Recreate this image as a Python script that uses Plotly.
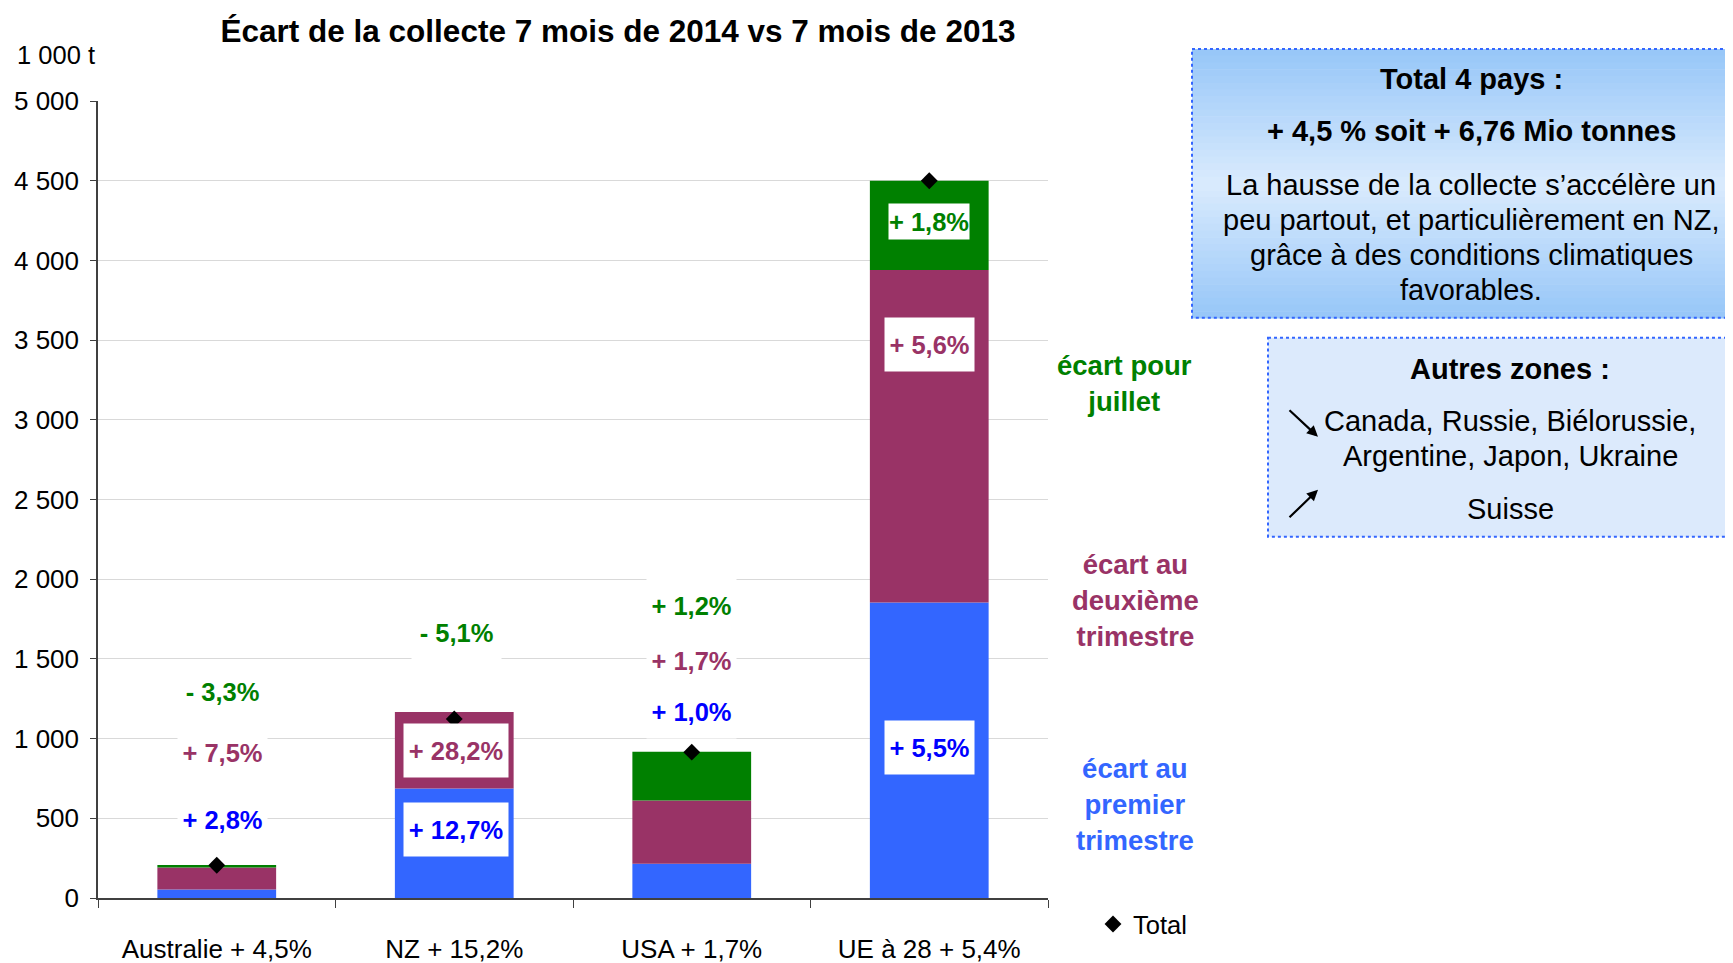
import plotly.graph_objects as go

# ---------------- data ----------------
categories = ["Australie + 4,5%", "NZ + 15,2%", "USA + 1,7%", "UE à 28 + 5,4%"]
q1_values = [54, 687, 215, 1854]        # écart au premier trimestre (1 000 t)
q2_values = [138, 480, 397, 2086]       # écart au deuxième trimestre
july_values = [15, -44, 305, 560]       # écart pour juillet
total_values = [205, 1123, 915, 4500]   # total

q1_labels = ["+ 2,8%", "+ 12,7%", "+ 1,0%", "+ 5,5%"]
q2_labels = ["+ 7,5%", "+ 28,2%", "+ 1,7%", "+ 5,6%"]
july_labels = ["- 3,3%", "- 5,1%", "+ 1,2%", "+ 1,8%"]

# label anchor heights (in axis units)
q1_label_y = [495, 432, 1169, 945]
q2_label_y = [915, 926, 1489, 3474]
july_label_y = [1293, 1667, 1833, 4242]
label_xshift = [6, 2, 0, 0]

y_ticks = list(range(0, 5001, 500))

# ---------------- style ----------------
FONT = "Liberation Sans, Arial, sans-serif"
BLUE = "#3366FF"
MAGENTA = "#993366"
GREEN = "#008000"
LBL_BLUE = "#0000FF"

W, H = 1733, 963
OFF = 8  # page body margin
# plot area in screen pixels
PL, PR, PT, PB = 98, 1048, 101, 898.5


def px(x):
    return (x - PL) / (PR - PL)


def py(y):
    return (PB - y) / (PB - PT)


fig = go.Figure()
fig.add_trace(go.Bar(x=categories, y=q1_values, marker_color=BLUE, marker_line_width=0,
                     name="écart au premier trimestre", showlegend=False))
fig.add_trace(go.Bar(x=categories, y=q2_values, marker_color=MAGENTA, marker_line_width=0,
                     name="écart au deuxième trimestre", showlegend=False))
fig.add_trace(go.Bar(x=categories, y=july_values, marker_color=GREEN, marker_line_width=0,
                     name="écart pour juillet", showlegend=False))
fig.add_trace(go.Scatter(x=categories, y=total_values, mode="markers", name="Total",
                         marker=dict(symbol="diamond", size=13, color="black")))

annotations = []
# data labels
for i, c in enumerate(categories):
    for txt, yv, col in ((q1_labels[i], q1_label_y[i], LBL_BLUE),
                         (q2_labels[i], q2_label_y[i], MAGENTA),
                         (july_labels[i], july_label_y[i], GREEN)):
        small = (txt == "+ 1,8%")
        wide = len(txt) > 6
        annotations.append(dict(
            x=c, y=yv, xref="x", yref="y", text="<b>%s</b>" % txt, showarrow=False,
            font=dict(family=FONT, size=25.5, color=col),
            bgcolor="white", borderpad=0, xshift=label_xshift[i],
            width=80 if small else (104 if wide else 89),
            height=35 if small else 53,
            xanchor="center", yanchor="middle"))

# "1 000 t"
annotations.append(dict(x=px(15), y=py(55), xref="paper", yref="paper", text="1 000 t",
                        showarrow=False, xanchor="left", yanchor="middle",
                        font=dict(family=FONT, size=25.5, color="black")))

# series captions
CAP = 27.5
annotations.append(dict(x=px(1124), y=py(383.5), xref="paper", yref="paper",
                        text="<b>écart pour<br>juillet</b>", showarrow=False,
                        xanchor="center", yanchor="middle", align="center",
                        font=dict(family=FONT, size=CAP, color=GREEN)))
annotations.append(dict(x=px(1135), y=py(600.5), xref="paper", yref="paper",
                        text="<b>écart au<br>deuxième<br>trimestre</b>", showarrow=False,
                        xanchor="center", yanchor="middle", align="center",
                        font=dict(family=FONT, size=CAP, color=MAGENTA)))
annotations.append(dict(x=px(1135), y=py(804.5), xref="paper", yref="paper",
                        text="<b>écart au<br>premier<br>trimestre</b>", showarrow=False,
                        xanchor="center", yanchor="middle", align="center",
                        font=dict(family=FONT, size=CAP, color=BLUE)))

# box 1 texts
BOX = 29
box1_lines = [("<b>Total 4 pays :</b>", 79), ("<b>+ 4,5 % soit + 6,76 Mio tonnes</b>", 131.5),
              ("La hausse de la collecte s’accélère un", 184.6),
              ("peu partout, et particulièrement en NZ,", 220),
              ("grâce à des conditions climatiques", 255),
              ("favorables.", 290.5)]
for t, yy in box1_lines:
    annotations.append(dict(x=px(1471), y=py(yy), xref="paper", yref="paper", text=t,
                            showarrow=False, xanchor="center", yanchor="middle",
                            font=dict(family=FONT, size=BOX, color="black")))

box2_lines = [("<b>Autres zones :</b>", 369), ("Canada, Russie, Biélorussie,", 421),
              ("Argentine, Japon, Ukraine", 456.5), ("Suisse", 509.5)]
for t, yy in box2_lines:
    annotations.append(dict(x=px(1510), y=py(yy), xref="paper", yref="paper", text=t,
                            showarrow=False, xanchor="center", yanchor="middle",
                            font=dict(family=FONT, size=BOX, color="black")))

# arrows (pixel offsets for the tail)
annotations.append(dict(x=px(1318), y=py(437), ax=-30, ay=-28, xref="paper", yref="paper",
                        axref="pixel", ayref="pixel", text="", showarrow=True, arrowhead=2,
                        arrowsize=1, arrowwidth=2.2, arrowcolor="black"))
annotations.append(dict(x=px(1318), y=py(490), ax=-30, ay=29, xref="paper", yref="paper",
                        axref="pixel", ayref="pixel", text="", showarrow=True, arrowhead=2,
                        arrowsize=1, arrowwidth=2.2, arrowcolor="black"))

shapes = []
# box 1 gradient (light in the middle)
top_c = (150, 198, 248)
mid_c = (218, 235, 253)
x0b, x1b, y0b, y1b = 1192, 1745, 49, 318
nb = 40
for k in range(nb):
    t0 = k / nb
    t1 = (k + 1) / nb
    tm = (t0 + t1) / 2
    f = 1 - abs(tm - 0.5) * 2
    col = tuple(int(round(top_c[j] + (mid_c[j] - top_c[j]) * f)) for j in range(3))
    shapes.append(dict(type="rect", xref="paper", yref="paper",
                       x0=px(x0b), x1=px(x1b),
                       y0=py(y0b + (y1b - y0b) * t0), y1=py(y0b + (y1b - y0b) * t1 + 0.6),
                       fillcolor="rgb(%d,%d,%d)" % col, line=dict(width=0), layer="below"))
shapes.append(dict(type="rect", xref="paper", yref="paper", x0=px(x0b), x1=px(x1b),
                   y0=py(y0b), y1=py(y1b), fillcolor="rgba(0,0,0,0)",
                   line=dict(color="#3366FF", width=2, dash="dot"), layer="above"))
# box 2
shapes.append(dict(type="rect", xref="paper", yref="paper", x0=px(1268), x1=px(1745),
                   y0=py(338), y1=py(537), fillcolor="#DCEAFC",
                   line=dict(color="#3366FF", width=2, dash="dot"), layer="below"))

fig.update_layout(
    width=W, height=H,
    barmode="relative", bargap=0.5,
    plot_bgcolor="white", paper_bgcolor="white",
    margin=dict(l=PL - OFF, r=W - (PR - OFF), t=PT - OFF, b=H - (PB - OFF), autoexpand=False),
    separators=", ",
    font=dict(family=FONT, size=25, color="black"),
    title=dict(text="<b>Écart de la collecte 7 mois de 2014 vs 7 mois de 2013</b>",
               x=px(618), xref="paper", xanchor="center", y=1 - (31 - OFF) / H, yanchor="middle",
               font=dict(family=FONT, size=31.5, color="black")),
    showlegend=True,
    legend=dict(x=px(1093), y=py(925), xanchor="left", yanchor="middle",
                bgcolor="rgba(0,0,0,0)", font=dict(family=FONT, size=25.5, color="black"),
                borderwidth=0),
    annotations=annotations,
    shapes=shapes,
)
fig.update_yaxes(range=[0, 5000], tickvals=y_ticks, tickformat=",d",
                 showgrid=True, gridcolor="#D9D9D9", gridwidth=1,
                 showline=True, linecolor="#404040", linewidth=1.5,
                 ticks="outside", ticklen=6, tickcolor="#404040",
                 ticklabelstandoff=6, zeroline=False,
                 tickfont=dict(family=FONT, size=26, color="black"))
fig.update_xaxes(showline=True, linecolor="#404040", linewidth=1.5,
                 ticks="outside", ticklen=8, tickcolor="#404040", tickson="boundaries",
                 ticklabelstandoff=27,
                 tickfont=dict(family=FONT, size=26, color="black"))

fig.write_html("out.html")
